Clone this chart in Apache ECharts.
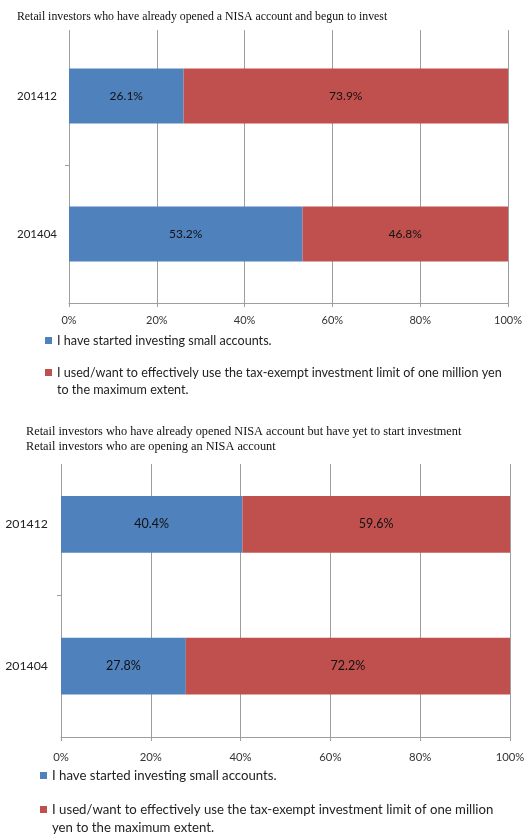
<!DOCTYPE html>
<html>
<head>
<meta charset="utf-8">
<script src="https://cdn.jsdelivr.net/npm/echarts@6/dist/echarts.min.js"></script>
<style>
  html, body { margin: 0; padding: 0; background: #fff; }
  #chart { width: 532px; height: 834px; }
</style>
</head>
<body>
<div id="chart"></div>
<script>
// Survey periods, top row first
const categories = ['201412', '201404'];

// Answer options (series names)
const seriesNames = [
  'I have started investing small accounts.',
  'I used/want to effectively use the tax-exempt investment limit of one million yen to the maximum extent.'
];

// Panel 1: investors who opened a NISA account and began investing (%)
const begunSmall = [26.1, 53.2];
const begunLimit = [73.9, 46.8];

// Panel 2: investors who opened but have not started, or are opening (%)
const notYetSmall = [40.4, 27.8];
const notYetLimit = [59.6, 72.2];

// Percentage axis ticks
const pctMin = 0, pctMax = 100, pctStep = 20;

const titles = [
  'Retail investors who have already opened a NISA account and begun to invest',
  'Retail investors who have already opened NISA account but have yet to start investment\nRetail investors who are opening an NISA account'
];

const BLUE = '#4F81BD';
const RED = '#C0504D';
const GRID_GRAY = '#9e9e9e';
const SANS = 'Lato, "Liberation Sans", sans-serif';
const SERIF = '"Liberation Serif", "DejaVu Serif", serif';

const chart = echarts.init(document.getElementById('chart'), null, { renderer: 'canvas' });

function pctAxis(gridIndex, labelSize, margin) {
  return {
    type: 'value', gridIndex, min: pctMin, max: pctMax, interval: pctStep,
    axisLine: { show: true, lineStyle: { color: GRID_GRAY, width: 1 } },
    axisTick: { show: true, length: 4, lineStyle: { color: GRID_GRAY } },
    splitLine: { show: true, lineStyle: { color: GRID_GRAY, width: 1 } },
    axisLabel: { formatter: '{value}%', fontFamily: SANS, fontSize: labelSize, color: '#333', margin }
  };
}

function hiddenValueAxis(gridIndex) {
  return { type: 'value', gridIndex, min: pctMin, max: pctMax, show: false };
}

function catAxis(gridIndex, labelSize, margin) {
  return {
    type: 'category', gridIndex, data: categories, inverse: true,
    axisLine: { show: false },
    axisTick: { show: false },
    splitLine: { show: false },
    axisLabel: { fontFamily: SANS, fontSize: labelSize, color: '#222', margin }
  };
}

// Tick marks on the band boundaries between rows only
function rowDividerAxis(gridIndex) {
  return {
    type: 'value', gridIndex, position: 'left', inverse: true,
    min: 0, max: categories.length, interval: 1,
    axisLine: { show: false },
    axisLabel: { show: false },
    splitLine: { show: false },
    axisTick: {
      show: true, length: 4, inside: false,
      customValues: categories.slice(1).map((_, i) => i + 1),
      lineStyle: { color: GRID_GRAY }
    }
  };
}

function barSeries(name, data, color, axisIdx, stack, labelSize) {
  return {
    type: 'bar', name, data, stack,
    xAxisIndex: axisIdx, yAxisIndex: axisIdx,
    barWidth: '40%',
    itemStyle: { color },
    label: {
      show: true, position: 'inside', color: '#111',
      fontFamily: SANS, fontSize: labelSize,
      formatter: (p) => p.value.toFixed(1) + '%'
    },
    emphasis: { disabled: true }
  };
}

// One legend entry; long names wrap, and a leading blank line keeps the
// swatch level with the first line of text
function legendItem(name, left, top, size, lineHeight, breakBefore) {
  const wrap = breakBefore
    ? (n) => '\n' + n.replace(' ' + breakBefore, '\n' + breakBefore)
    : (n) => n;
  return {
    data: [name], orient: 'vertical', left, top,
    selectedMode: false,
    icon: 'rect', itemWidth: 7, itemHeight: 7,
    formatter: wrap,
    textStyle: { fontFamily: SANS, fontSize: size, color: '#222', lineHeight }
  };
}

chart.setOption({
  animation: false,
  backgroundColor: '#fff',
  title: [
    { text: titles[0], left: 12, top: 6, textStyle: { fontFamily: SERIF, fontSize: 11.8, fontWeight: 'normal', color: '#111' } },
    { text: titles[1], left: 21, top: 420, textStyle: { fontFamily: SERIF, fontSize: 12.3, fontWeight: 'normal', color: '#111', lineHeight: 14.5 } }
  ],
  grid: [
    { left: 69, width: 439, top: 27, height: 276 },     // panel 1 bars
    { left: 69, width: 439, top: 30, height: 273 },     // panel 1 gridlines
    { left: 61, width: 449, top: 453.5, height: 283.5 }, // panel 2 bars
    { left: 61, width: 449, top: 464, height: 273 }     // panel 2 gridlines
  ],
  xAxis: [
    hiddenValueAxis(0),
    pctAxis(1, 11, 12),
    hiddenValueAxis(2),
    pctAxis(3, 11.3, 15)
  ],
  yAxis: [
    catAxis(0, 11.5, 12),
    { type: 'value', gridIndex: 1, show: false },
    catAxis(2, 12.3, 13),
    { type: 'value', gridIndex: 3, show: false },
    rowDividerAxis(0),
    rowDividerAxis(2)
  ],
  legend: [
    legendItem(seriesNames[0], 40, 327, 12.6, 17),
    legendItem(seriesNames[1], 40, 342, 12.6, 17, 'to the maximum'),
    legendItem(seriesNames[0], 35, 761.5, 13.2, 18),
    legendItem(seriesNames[1], 35, 777.5, 13.2, 18, 'yen to the')
  ],
  series: [
    barSeries(seriesNames[0], begunSmall, BLUE, 0, 'p1', 12),
    barSeries(seriesNames[1], begunLimit, RED, 0, 'p1', 12),
    barSeries(seriesNames[0], notYetSmall, BLUE, 2, 'p2', 12.5),
    barSeries(seriesNames[1], notYetLimit, RED, 2, 'p2', 12.5)
  ]
});
</script>
</body>
</html>
